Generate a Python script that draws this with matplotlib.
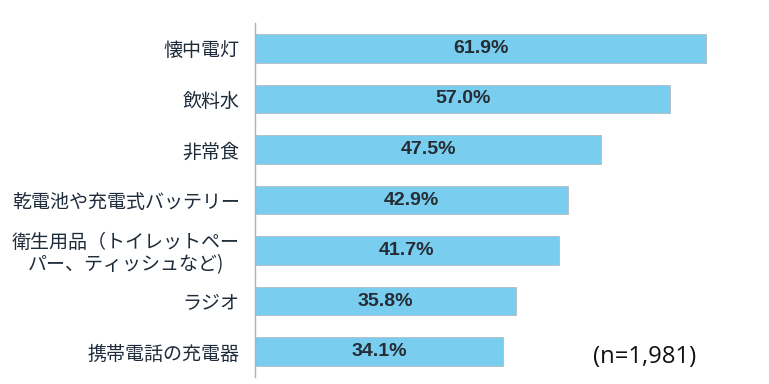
import matplotlib
matplotlib.use("Agg")
from matplotlib import pyplot as plt

items = ["懐中電灯", "飲料水", "非常食", "乾電池や充電式バッテリー",
         "衛生用品（トイレットペー\nパー、ティッシュなど)", "ラジオ", "携帯電話の充電器"]
values = [61.9, 57.0, 47.5, 42.9, 41.7, 35.8, 34.1]
note = "(n=1,981)"

BAR = "#79CDEF"
TXT = "#1E2B3A"


def main():
    plt.rcParams['font.family'] = ['Noto Sans CJK JP', 'DejaVu Sans']
    fig = plt.figure(figsize=(7.69, 3.84), dpi=100)
    ax = fig.add_axes([255 / 769, 1 - 377 / 384, 510 / 769, 354 / 384])

    pos = list(range(len(items)))
    ax.barh(pos, values, height=0.565, color=BAR, edgecolor="#B4BCC4", linewidth=0.6)
    for p, v in zip(pos, values):
        ax.text(v / 2, p, f"{v:.1f}%", ha="center", va="center", fontsize=14,
                fontweight="bold", color="#262C33", family=["Liberation Sans"])

    ax.set_xlim(0, 70)
    ax.set_ylim(6.5, -0.5)
    ax.set_yticks(pos)
    ax.set_yticklabels(items, fontsize=13.7, color=TXT)
    for t in ax.get_yticklabels():
        t.set_multialignment("center")
        t.set_linespacing(1.05)
    ax.tick_params(axis="y", length=0, pad=11)
    ax.set_xticks([])
    for s in ["top", "right", "bottom"]:
        ax.spines[s].set_visible(False)
    ax.spines["left"].set_color("#A3B6C8")
    ax.spines["left"].set_linewidth(1.0)

    fig.text(645 / 769, 1 - 357 / 384, note, ha="center", va="center",
             fontsize=17.2, color="#111111", family=["Open Sans"])

    fig.savefig("out.png", dpi=100)


if __name__ == "__main__":
    main()
